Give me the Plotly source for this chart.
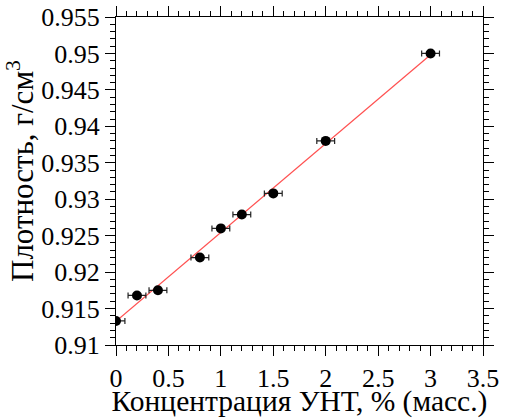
import numpy as np
import plotly.graph_objects as go

conc = [0.0, 0.2, 0.4, 0.8, 1.0, 1.2, 1.5, 2.0, 3.0]
density = [0.9133, 0.9168, 0.9175, 0.9220, 0.9260, 0.9279, 0.9308, 0.9380, 0.9500]
conc_err = [0.085] * len(conc)

x_title = "Концентрация УНТ, % (масс.)"
y_title = "Плотность, г/см<sup>3</sup>"

slope, intercept = np.polyfit(conc, density, 1)
fit_x = [min(conc), max(conc)]
fit_y = [intercept + slope * v for v in fit_x]

font = "Liberation Serif, Times New Roman, serif"

fig = go.Figure()
fig.add_trace(go.Scatter(x=fit_x, y=fit_y, mode="lines",
                         line=dict(color="#ff5050", width=1.2), showlegend=False))
fig.add_trace(go.Scatter(x=conc, y=density, mode="markers",
                         marker=dict(color="black", size=10),
                         error_x=dict(type="data", array=conc_err, color="#222222",
                                      thickness=1.2, width=3),
                         showlegend=False))

axis_common = dict(showgrid=False, zeroline=False, showline=True, linecolor="black",
                   linewidth=1, mirror="allticks", ticks="outside", tickcolor="black",
                   ticklen=10, tickwidth=1, automargin=False,
                   tickfont=dict(family=font, size=26, color="black"))

fig.update_xaxes(range=[0, 3.5], dtick=0.5, tick0=0,
                 minor=dict(dtick=0.1, ticks="outside", ticklen=5, tickcolor="black"),
                 title=dict(text=x_title,
                            font=dict(family=font, size=29.5, color="black"), standoff=5),
                 **axis_common)
fig.update_yaxes(range=[0.91, 0.955], dtick=0.005, tick0=0.91,
                 minor=dict(dtick=0.001, ticks="outside", ticklen=5, tickcolor="black"),
                 **axis_common)

fig.add_annotation(text=y_title, textangle=-90, xref="paper", yref="paper",
                   x=-0.262, y=0.53, xanchor="center", yanchor="middle", showarrow=False,
                   font=dict(family=font, size=31, color="black"))

fig.update_layout(width=505, height=418, margin=dict(l=116, r=22, t=17, b=73),
                  paper_bgcolor="white", plot_bgcolor="white")

fig.write_html("out.html", config={"displayModeBar": False},
               post_script="document.body.style.margin='0';document.body.style.overflow='hidden';")
